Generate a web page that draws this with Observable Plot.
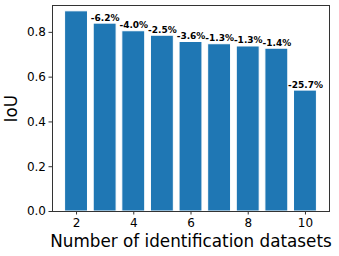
<!DOCTYPE html>
<html>
<head>
<meta charset="utf-8">
<script src="https://cdn.jsdelivr.net/npm/d3@7"></script>
<script src="https://cdn.jsdelivr.net/npm/@observablehq/plot@0.6"></script>
<style>
  html, body { margin: 0; padding: 0; background: #fff; }
  #chart svg { display: block; }
</style>
</head>
<body>
<div id="chart"></div>
<script>
const datasets = [2, 3, 4, 5, 6, 7, 8, 9, 10];
const iou = [0.894, 0.839, 0.805, 0.785, 0.757, 0.747, 0.737, 0.727, 0.540];
const dropLabels = ["", "-6.2%", "-4.0%", "-2.5%", "-3.6%", "-1.3%", "-1.3%", "-1.4%", "-25.7%"];
const xTicks = [2, 4, 6, 8, 10];
const yTicks = [0, 0.2, 0.4, 0.6, 0.8];
const xTitle = "Number of identification datasets";
const yTitle = "IoU";

const data = datasets.map((n, i) => ({n, iou: iou[i], label: dropLabels[i]}));

const W = 339, H = 256;
const mL = 52, mR = 10, mT = 5, mB = 45;

const chart = Plot.plot({
  width: W,
  height: H,
  marginLeft: mL,
  marginRight: mR,
  marginTop: mT,
  marginBottom: mB,
  style: {fontFamily: "DejaVu Sans", background: "#fff", color: "#000"},
  x: {type: "linear", domain: [1.16, 10.84]},
  y: {domain: [0, 0.92]},
  marks: [
    Plot.rectY(data, {
      x1: d => d.n - 0.4,
      x2: d => d.n + 0.4,
      y1: 0,
      y2: "iou",
      fill: "#1f77b4",
      stroke: "#fff",
      strokeWidth: 1
    }),
    Plot.text(data.filter(d => d.label), {
      x: "n",
      y: "iou",
      text: "label",
      textAnchor: "middle",
      lineAnchor: "bottom",
      dy: -3,
      fontSize: 9,
      fontWeight: "bold",
      fill: "#000"
    }),
    Plot.axisX({ticks: xTicks, tickFormat: d => String(d), tickSize: 3.5, tickPadding: 3, fontSize: 12, label: null, stroke: "#333", fill: "#000"}),
    Plot.axisY({ticks: yTicks, tickFormat: d => d.toFixed(1), tickSize: 3.5, tickPadding: 3, fontSize: 12, label: null, stroke: "#333", fill: "#000"}),
    Plot.frame({stroke: "#333", strokeWidth: 1})
  ]
});

document.getElementById("chart").appendChild(chart);

const svg = d3.select(chart);
svg.append("text")
  .attr("x", mL + (W - mL - mR) / 2 + 0.5)
  .attr("y", 246.5)
  .attr("text-anchor", "middle")
  .attr("font-family", "DejaVu Sans")
  .attr("font-size", 16.8)
  .attr("fill", "#000")
  .text(xTitle);
svg.append("text")
  .attr("transform", `translate(17.3,108.7) rotate(-90)`)
  .attr("text-anchor", "middle")
  .attr("font-family", "DejaVu Sans")
  .attr("font-size", 16.8)
  .attr("fill", "#000")
  .text(yTitle);
</script>
</body>
</html>
